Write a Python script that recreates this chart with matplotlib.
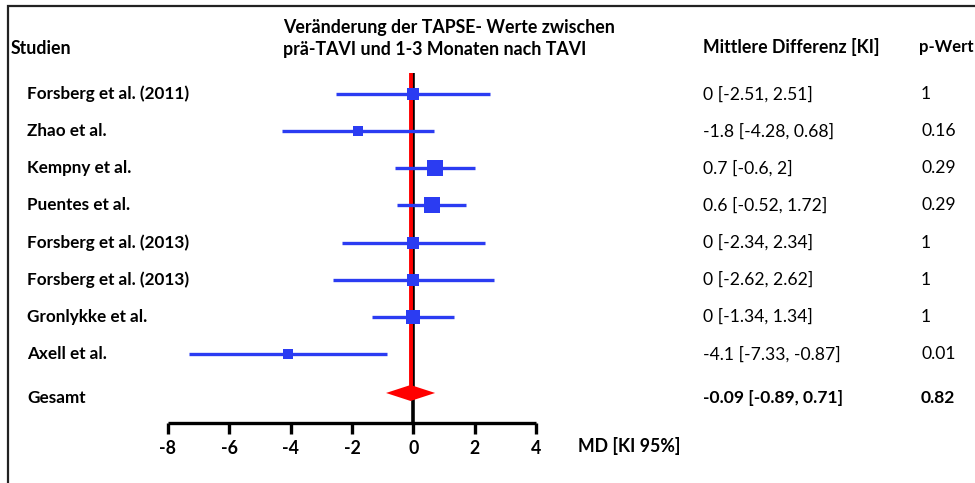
import matplotlib
matplotlib.use("Agg")
import numpy as np
import matplotlib.pyplot as plt
import matplotlib.transforms as mtransforms
from matplotlib.patches import Polygon, Rectangle

# data
studies = ["Forsberg et al. (2011)", "Zhao et al.", "Kempny et al.", "Puentes et al.",
           "Forsberg et al. (2013)", "Forsberg et al. (2013)", "Gronlykke et al.", "Axell et al."]
md = [0, -1.8, 0.7, 0.6, 0, 0, 0, -4.1]
ci_low = [-2.51, -4.28, -0.6, -0.52, -2.34, -2.62, -1.34, -7.33]
ci_high = [2.51, 0.68, 2, 1.72, 2.34, 2.62, 1.34, -0.87]
p_values = ["1", "0.16", "0.29", "0.29", "1", "1", "1", "0.01"]
weights = [9.7, 7.8, 18.9, 20.6, 9.7, 9.4, 15.5, 8.3]  # relative study weight (%), estimated

total_md = -0.09
total_low = -0.89
total_high = 0.71
total_p = "0.82"

xticks = [-8, -6, -4, -2, 0, 2, 4]

W, H = 975, 483
BLUE = "#2b3cf2"
RED = "#ff0000"

plt.rcParams["font.family"] = ["Lato", "DejaVu Sans"]

fig = plt.figure(figsize=(W / 100, H / 100), dpi=100)

def fx(px):
    return px / W

def fy(py):
    return 1 - py / H

# frame around the picture (cut on the right and bottom)
fig.patches.append(Rectangle((fx(8), -0.1), 1.2, fy(6) + 0.1, transform=fig.transFigure,
                             fill=False, edgecolor="#222222", linewidth=1.6))

ax_left, ax_right = 168, 536
ax_top, ax_bottom = 72.7, 423.3
ax = fig.add_axes([fx(ax_left), fy(ax_bottom), (ax_right - ax_left) / W, (ax_bottom - ax_top) / H])
ax.set_xlim(-8, 4)
row_gap = 37.14
ax.set_ylim((ax_bottom - 94) / row_gap, (ax_top - 94) / row_gap)
ax.patch.set_alpha(0)

rows = np.arange(len(studies))
gesamt_row = 8.05

# reference line at zero and the pooled estimate line
ax.plot([0, 0], [ax.get_ylim()[1], ax.get_ylim()[0]], color="black", lw=2.6, zorder=1,
        solid_capstyle="butt")
ax.plot([total_md, total_md], [ax.get_ylim()[1], gesamt_row], color=RED, lw=2.8, zorder=2,
        solid_capstyle="butt")

for i in rows:
    ax.plot([ci_low[i], ci_high[i]], [i, i], color=BLUE, lw=2.4, zorder=3, solid_capstyle="butt")
    size_px = 3.68 * np.sqrt(weights[i])
    ax.plot(md[i], i, marker="s", markersize=size_px * 0.72, color=BLUE,
            markeredgewidth=0, zorder=4)

half_h = 8 / row_gap
diamond = Polygon([(total_low, gesamt_row), (total_md, gesamt_row - half_h),
                   (total_high, gesamt_row), (total_md, gesamt_row + half_h)],
                  closed=True, facecolor=RED, edgecolor="none", zorder=5)
ax.add_patch(diamond)

for side in ["top", "left", "right"]:
    ax.spines[side].set_visible(False)
ax.spines["bottom"].set_linewidth(2.4)
ax.spines["bottom"].set_capstyle("butt")
ax.set_yticks([])
ax.set_xticks(xticks)
ax.set_xticklabels([str(t) for t in xticks], fontweight="bold", fontsize=12.8)
ax.tick_params(axis="x", direction="out", length=8, width=2.4, pad=4)

# texts, rows in data coordinates of the axes
trans = mtransforms.blended_transform_factory(fig.transFigure, ax.transData)
label_kw = dict(fontsize=12.3, fontweight="bold", va="center", ha="left")
value_kw = dict(fontsize=12.6, va="center", ha="left")

for i in rows:
    fig.text(fx(27), i, studies[i], transform=trans, **label_kw)
    fig.text(fx(703), i, f"{md[i]:g} [{ci_low[i]:g}, {ci_high[i]:g}]", transform=trans, **value_kw)
    fig.text(fx(921), i, p_values[i], transform=trans, **value_kw)

gesamt_text_row = 8.18
fig.text(fx(27), gesamt_text_row, "Gesamt", transform=trans, **label_kw)
fig.text(fx(703), gesamt_text_row, f"{total_md:g} [{total_low:g}, {total_high:g}]",
         transform=trans, fontsize=12.6, fontweight="bold", va="center", ha="left")
fig.text(fx(921), gesamt_text_row, total_p, transform=trans,
         fontsize=12.6, fontweight="bold", va="center", ha="left")

# headers
head_kw = dict(fontsize=12.8, fontweight="bold", va="center", ha="left")
fig.text(fx(11), fy(48), "Studien", **head_kw)
fig.text(fx(283), fy(27), "Veränderung der TAPSE- Werte zwischen", **head_kw)
fig.text(fx(283), fy(50), "prä-TAVI und 1-3 Monaten nach TAVI", **head_kw)
fig.text(fx(703), fy(47), "Mittlere Differenz [KI]", **head_kw)
fig.text(fx(919), fy(47), "p-Wert", fontsize=12.0, fontweight="bold", va="center", ha="left")
fig.text(fx(578), fy(446), "MD [KI 95%]", **head_kw)

fig.savefig("out.png", dpi=100)
